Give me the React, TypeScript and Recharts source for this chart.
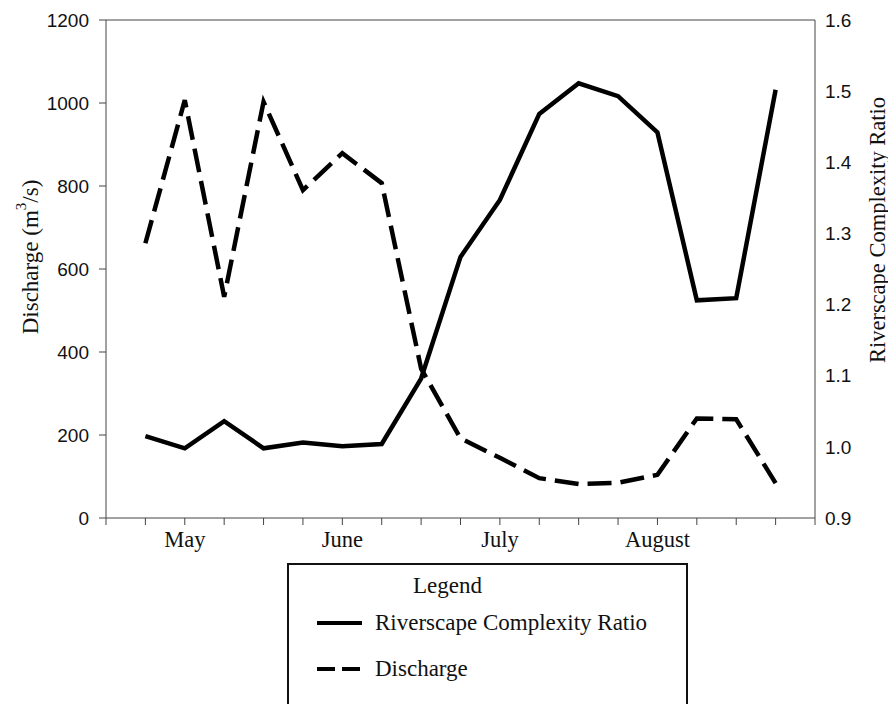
import React from 'react'
import { Label, Legend, Line, LineChart, ReferenceLine, XAxis, YAxis } from 'recharts'

// sampling points along the season (x positions on the axis)
const weeks = [1, 2, 3, 4, 5, 6, 7, 8, 9, 10, 11, 12, 13, 14, 15, 16, 17]
const discharge = [662, 1007, 533, 1003, 790, 879, 807, 360, 192, 145, 96, 82, 85, 104, 240, 238, 84]
const complexity = [1.015, 0.998, 1.036, 0.998, 1.006, 1.001, 1.004, 1.096, 1.267, 1.347, 1.468, 1.511, 1.493, 1.442, 1.206, 1.209, 1.502]

const xTicks = [0, 1, 2, 3, 4, 5, 6, 7, 8, 9, 10, 11, 12, 13, 14, 15, 16, 17, 18]
const monthLabels: Record<number, string> = { 2: 'May', 6: 'June', 10: 'July', 14: 'August' }
const leftTicks = [0, 200, 400, 600, 800, 1000, 1200]
const rightTicks = [0.9, 1.0, 1.1, 1.2, 1.3, 1.4, 1.5, 1.6]

const series = [
  { key: 'ratio', name: 'Riverscape Complexity Ratio', dash: undefined },
  { key: 'discharge', name: 'Discharge', dash: '18 7' },
]

const serif = '"Liberation Serif", "Times New Roman", serif'
const sans = '"Liberation Sans", Arial, sans-serif'
const axisColor = '#444'

const LeftTitle = (props: any) => {
  const { x, y, height } = props.viewBox
  const cx = x + 30
  const cy = y + height / 2 - 12
  return (
    <text x={cx} y={cy} transform={`rotate(-90 ${cx} ${cy})`} textAnchor="middle" dominantBaseline="central"
      fontFamily={serif} fontSize={23} fill="#111">
      <tspan>Discharge (m</tspan>
      <tspan dy={-9} fontSize={15}>3</tspan>
      <tspan dy={9}>/s)</tspan>
    </text>
  )
}

const RightTitle = (props: any) => {
  const { x, y, height } = props.viewBox
  const cx = x + 62
  const cy = y + height / 2 - 39
  return (
    <text x={cx} y={cy} transform={`rotate(-90 ${cx} ${cy})`} textAnchor="middle" dominantBaseline="central"
      fontFamily={serif} fontSize={22.5} fill="#111">
      Riverscape Complexity Ratio
    </text>
  )
}

const LegendBox = () => (
  <div style={{ position: 'relative', width: 401, height: 150, boxSizing: 'border-box', border: '2px solid #111',
    background: '#fff', fontFamily: serif, fontSize: 23, lineHeight: '23px', color: '#111' }}>
    <div style={{ position: 'absolute', left: 124, top: 9 }}>Legend</div>
    {series.map((s, i) => (
      <div key={s.key} style={{ position: 'absolute', left: 26, top: 46 + i * 46, display: 'flex', alignItems: 'center' }}>
        <svg width={50} height={23}>
          <line x1={2} x2={47} y1={12} y2={12} stroke="#000" strokeWidth={4} strokeDasharray={s.dash} />
        </svg>
        <span style={{ marginLeft: 10 }}>{s.name}</span>
      </div>
    ))}
  </div>
)

export default function App() {
  const data = weeks.map((w, i) => ({ week: w, discharge: discharge[i], ratio: complexity[i] }))

  return (
    <div style={{ position: 'fixed', left: 0, top: 0, background: '#fff' }}>
      <LineChart width={888} height={704} data={data} margin={{ top: 20, right: 0, bottom: 146, left: 0 }}>
        <XAxis dataKey="week" type="number" domain={[0, 18]} ticks={xTicks} interval={0}
          tickFormatter={(v: number) => monthLabels[v] ?? ''} stroke={axisColor} tickSize={7} tickMargin={6}
          height={40} tick={{ fontFamily: serif, fontSize: 22.5, fill: '#111' }} />
        <YAxis yAxisId="left" domain={[0, 1200]} ticks={leftTicks} width={106} stroke={axisColor}
          tickSize={7} tickMargin={10} tick={{ fontFamily: sans, fontSize: 19, fill: '#111' }}>
          <Label content={LeftTitle} />
        </YAxis>
        <YAxis yAxisId="right" orientation="right" domain={[0.9, 1.6]} ticks={rightTicks} width={73}
          stroke={axisColor} tickLine={false} tickSize={0} tickMargin={10}
          tickFormatter={(v: number) => v.toFixed(1)} tick={{ fontFamily: sans, fontSize: 19, fill: '#111' }}>
          <Label content={RightTitle} />
        </YAxis>
        <ReferenceLine yAxisId="left" y={1200} stroke={axisColor} />
        <Line yAxisId="right" type="linear" dataKey="ratio" name="Riverscape Complexity Ratio" stroke="#000"
          strokeWidth={4.5} dot={false} activeDot={false} isAnimationActive={false} />
        <Line yAxisId="left" type="linear" dataKey="discharge" name="Discharge" stroke="#000"
          strokeWidth={4.5} strokeDasharray="24 9" dot={false} activeDot={false} isAnimationActive={false} />
        <Legend verticalAlign="middle" align="center" content={LegendBox}
          wrapperStyle={{ left: 287, top: 563, width: 401, height: 150 }} />
      </LineChart>
    </div>
  )
}
